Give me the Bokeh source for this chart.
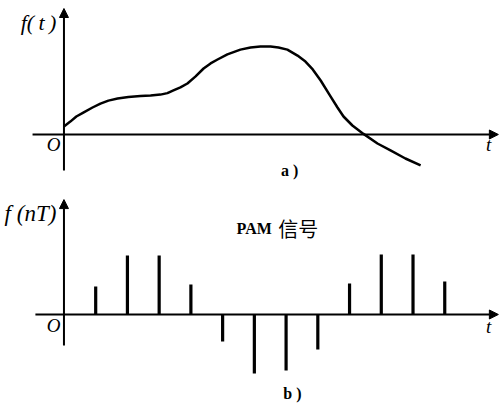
from bokeh.plotting import figure
from bokeh.layouts import column
from bokeh.models import Range1d, Arrow, NormalHead, Label, ColumnDataSource
from bokeh.embed import file_html
from bokeh.resources import INLINE

# ---- data (t in units of the sampling period T) ----
curve_t = [0.0, 0.20, 0.39, 0.61, 0.90, 1.15, 1.40, 1.69, 2.03, 2.41, 2.73, 3.04, 3.26,
           3.45, 3.67, 3.89, 4.14, 4.40, 4.62, 4.84, 5.15, 5.56, 5.88, 6.19, 6.51, 6.76,
           7.04, 7.36, 7.61, 7.84, 8.09, 8.40, 8.62, 8.81, 9.09, 9.44, 9.88, 10.29, 10.76, 11.24]
curve_f = [0.27, 0.43, 0.60, 0.73, 0.90, 1.03, 1.13, 1.20, 1.25, 1.28, 1.30, 1.33, 1.38,
           1.47, 1.57, 1.70, 1.93, 2.20, 2.37, 2.50, 2.67, 2.83, 2.90, 2.93, 2.93, 2.90,
           2.83, 2.63, 2.43, 2.17, 1.80, 1.27, 0.90, 0.60, 0.30, 0.02, -0.30, -0.53, -0.80, -1.03]
sample_n = [1, 2, 3, 4, 5, 6, 7, 8, 9, 10, 11, 12]
sample_v = [0.93, 1.97, 1.97, 1.0, -0.9, -1.97, -1.87, -1.17, 1.03, 2.0, 2.0, 1.1]

XR = (-2.0, 13.757)
W = 500

def base(h, ylo, yhi):
    p = figure(width=W, height=h, output_backend="svg", toolbar_location=None,
               x_range=Range1d(*XR), y_range=Range1d(ylo, yhi), min_border=0)
    p.axis.visible = False
    p.grid.visible = False
    p.outline_line_color = None
    p.background_fill_color = "white"
    p.border_fill_color = "white"
    return p

def axes(p, x0, x1, y0, y1):
    p.add_layout(Arrow(end=NormalHead(size=9, fill_color="black", line_color="black"),
                       x_start=x0, y_start=0, x_end=x1, y_end=0,
                       line_width=2, line_color="black"))
    p.add_layout(Arrow(end=NormalHead(size=9, fill_color="black", line_color="black"),
                       x_start=0, y_start=y0, x_end=0, y_end=y1,
                       line_width=2, line_color="black"))

def lab(p, x, y, txt, size, font="Liberation Serif", style="italic", align="left"):
    p.add_layout(Label(x=x, y=y, text=txt, text_font=font, text_font_size=f"{size}px",
                       text_font_style=style, text_align=align, text_baseline="middle",
                       text_color="black"))

# ---- top panel: a) ----
p1 = base(190, -1.867, 4.467)
axes(p1, -0.99, 13.69, -1.2, 4.2)
p1.line(curve_t, curve_f, line_width=2.5, line_color="black", line_join="round")
lab(p1, -0.24, 3.73, "f(\u2009t\u2009)", 22, align="right")
lab(p1, -0.33, -0.33, "O", 19, align="center")
lab(p1, 13.38, -0.33, "t", 19, align="center")
lab(p1, 7.11, -1.2, "a )", 16, style="bold", align="center")

# ---- bottom panel: b) ----
p2 = base(216, -3.067, 4.133)
axes(p2, -0.9, 13.69, -1.03, 3.83)
src = ColumnDataSource(dict(n=sample_n, v=sample_v, z=[0] * len(sample_n)))
p2.segment(x0="n", y0="z", x1="n", y1="v", source=src, line_width=3.2,
           line_color="black", line_cap="butt")
lab(p2, -0.24, 3.37, "f (nT)", 23, align="right")
lab(p2, -0.33, -0.37, "O", 19, align="center")
lab(p2, 13.38, -0.4, "t", 19, align="center")
lab(p2, 5.44, 2.87, "PAM", 16, style="bold")
lab(p2, 6.75, 2.87, "信号", 20, font="Noto Sans CJK SC", style="normal")
lab(p2, 7.2, -2.63, "b )", 16, style="bold", align="center")

layout = column(p1, p2, spacing=0)
open("out.html", "w").write(file_html(layout, INLINE))
